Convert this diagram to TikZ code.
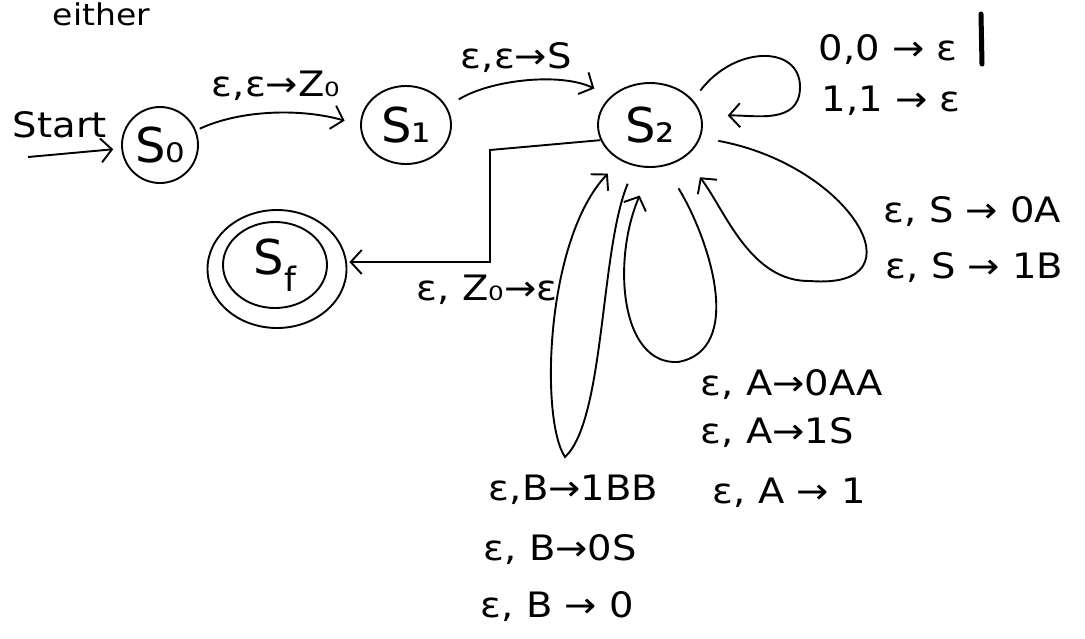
\documentclass[tikz,border=0pt]{standalone}
\usepackage{fontspec}
\setmainfont{DejaVu Sans}
\usetikzlibrary{arrows.meta,shapes.geometric}
\newcommand{\hw}[1]{\scalebox{1.1}[1]{#1}}
\begin{document}
\begin{tikzpicture}[x=1pt,y=-1pt,
  line width=1.9pt,
  st/.style={draw, ellipse, inner sep=0pt, font=\fontsize{48}{52}\selectfont},
  lab/.style={anchor=west, inner sep=0pt, font=\fontsize{35}{38}\selectfont},
  arr/.style={-{Straight Barb[length=11pt,width=24pt]}},
]
\useasboundingbox (0,0) rectangle (1085,638);

% handwriting at the top
\node[lab, anchor=base west, font=\fontsize{30}{34}\selectfont] (top) at (52,25) {\hw{either}};

% states
\node[st, minimum width=76pt, minimum height=76pt] (s0) at (160,145) {S₀};
\node[st, minimum width=90pt, minimum height=78pt] (s1) at (406,125) {S₁};
\node[st, minimum width=104pt, minimum height=84pt] (s2) at (650,125) {S₂};
\node[st, minimum width=104pt, minimum height=86pt] (sf) at (275,265) {S\textsubscript{f}};
\node[draw, ellipse, minimum width=139pt, minimum height=118pt] (sfo) at (277,269) {};

% start
\coordinate (stt) at (28,157);
\draw[arr, shorten >=8pt] (stt) -- (s0);
\node[lab] (startlab) at (12,125) {\hw{Start}};

% S0 -> S1
\draw[arr, shorten <=4pt, shorten >=16pt] (s0.22) .. controls (240,110) and (300,108) .. (s1.west);
\node[lab] (l01) at (211,86) {\hw{ε,ε→Z₀}};

% S1 -> S2
\draw[arr, shorten <=14pt, shorten >=18pt] (s1.24) .. controls (490,80) and (560,72) .. (s2.144);
\node[lab] (l12) at (460,58) {\hw{ε,ε→S}};

% S2 -> Sf
\coordinate (c1) at (490,150);
\coordinate (c2) at (490,262);
\draw[arr, shorten >=2pt] (s2.197) -- (c1) -- (c2) -- (c2 -| sfo.east);
\node[lab] (l2f) at (416,290) {\hw{ε, Z₀→ε}};

% top self loop
\coordinate (tl) at (800,87);
\draw[arr, shorten <=12pt, shorten >=26pt] (s2.30) .. controls (735,45) and (800,45) .. (tl) .. controls (800,125) and (755,115) .. (s2.10);
\node[lab] (lt1) at (818,50) {\hw{0,0 → ε}};
\node[lab] (lt2) at (821,101) {\hw{1,1 → ε}};
\draw[line width=5pt, line cap=round] (981,14) -- (982,64);

% S loop
\coordinate (sl) at (810,281);
\draw[arr, shorten <=18pt, shorten >=25pt] (s2.-14) .. controls (850,165) and (925,290) .. (sl) .. controls (750,282) and (725,210) .. (s2.-43);
\node[lab] (ls1) at (883,212) {\hw{ε, S → 0A}};
\node[lab] (ls2) at (885,268) {\hw{ε, S → 1B}};

% A loop
\coordinate (al) at (678,362);
\draw[arr, shorten <=26pt, shorten >=30pt] (s2.-70) .. controls (710,240) and (745,350) .. (al) .. controls (620,365) and (612,260) .. (s2.-88);
\node[lab] (la1) at (700,385) {\hw{ε, A→0AA}};
\node[lab] (la2) at (700,433) {\hw{ε, A→1S}};
\node[lab] (la3) at (712,493) {\hw{ε, A → 1}};

% B loop
\coordinate (bl) at (565,457);
\draw[arr, shorten <=19pt, shorten >=18pt] (s2.-110) .. controls (600,250) and (605,420) .. (bl) .. controls (540,420) and (545,240) .. (s2.-130);
\node[lab] (lb1) at (488,490) {\hw{ε,B→1BB}};
\node[lab] (lb2) at (483,550) {\hw{ε, B→0S}};
\node[lab] (lb3) at (480,607) {\hw{ε, B → 0}};
\end{tikzpicture}
\end{document}
